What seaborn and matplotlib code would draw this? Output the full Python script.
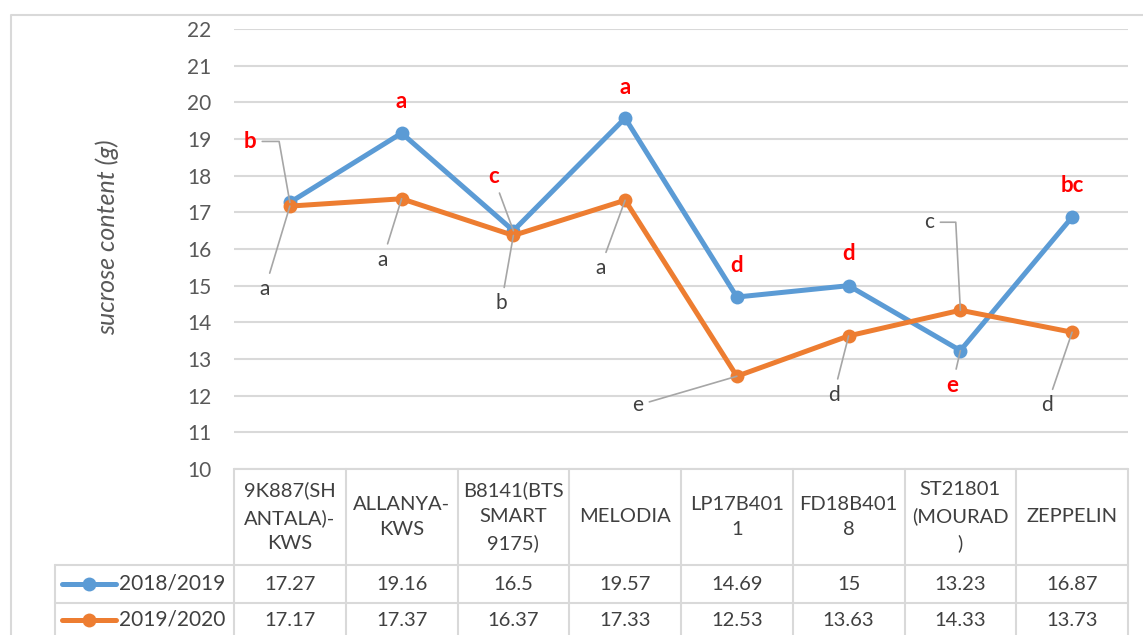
import numpy as np
import pandas as pd
import seaborn as sns
import matplotlib.pyplot as plt

# ---- data -------------------------------------------------------------
varieties = ["9K887(SH\nANTALA)-\nKWS", "ALLANYA-\nKWS", "B8141(BTS\nSMART\n9175)",
             "MELODIA", "LP17B401\n1", "FD18B401\n8", "ST21801\n(MOURAD\n)",
             "ZEPPELIN"]
seasons = ["2018/2019", "2019/2020"]
sucrose_1819 = [17.27, 19.16, 16.5, 19.57, 14.69, 15, 13.23, 16.87]
sucrose_1920 = [17.17, 17.37, 16.37, 17.33, 12.53, 13.63, 14.33, 13.73]
letters_1819 = ["b", "a", "c", "a", "d", "d", "e", "bc"]
letters_1920 = ["a", "a", "b", "a", "e", "d", "c", "d"]
table_1819 = ["17.27", "19.16", "16.5", "19.57", "14.69", "15", "13.23", "16.87"]
table_1920 = ["17.17", "17.37", "16.37", "17.33", "12.53", "13.63", "14.33", "13.73"]

# ---- label placement (offset pixels from point) -------------------------
off_1819 = [(-40, 61), (0, 32), (-20, 54), (0, 31), (0, 32), (0, 32), (-8, -35), (0, 32)]
lead_1819 = [100, None, "line", None, None, None, "line", None]
off_1920 = [(-25, -83), (-19, -61), (-12, -68), (-25, -68), (-99, -29), (-15, -59),
            (-31, 88), (-25, -73)]
lead_1920 = ["line", "line", "line", "line", "line", "line", 93, "line"]

BLUE, ORANGE = "#5B9BD5", "#ED7D31"
GRID = "#D9D9D9"
TXT = "#404040"
W, H = 1143, 635
L, R, TOP, BOT = 234, 1128, 29, 469

sns.set_theme(style="white")
plt.rcParams["font.family"] = ["Lato", "DejaVu Sans"]

df = pd.DataFrame({
    "pos": list(range(len(varieties))) * 2,
    "sucrose": sucrose_1819 + sucrose_1920,
    "season": [seasons[0]] * len(varieties) + [seasons[1]] * len(varieties),
})

fig = plt.figure(figsize=(W / 100, H / 100), dpi=100)
ov = fig.add_axes([0, 0, 1, 1], zorder=0)
ov.set_xlim(0, W)
ov.set_ylim(H, 0)
ov.axis("off")

ax = fig.add_axes([L / W, (H - BOT) / H, (R - L) / W, (BOT - TOP) / H], zorder=2)
ax.patch.set_alpha(0)

sns.lineplot(data=df, x="pos", y="sucrose", hue="season",
             palette=[BLUE, ORANGE], marker="o", markersize=10,
             markeredgewidth=0, linewidth=3.6, legend=False, ax=ax,
             zorder=3)

ax.set_xlim(-0.5, len(varieties) - 0.5)
ax.set_ylim(10, 22)
ax.set_yticks(range(10, 23))
ax.set_xticks([])
ax.set_xlabel("")
ax.set_ylabel("sucrose content (g)", fontsize=18, fontstyle="italic",
              color="#595959")
ax.yaxis.set_label_coords(-0.129, 0.527)
ax.tick_params(axis="y", length=0, labelsize=15, labelcolor="#595959", pad=16.5)
ax.grid(axis="y", color=GRID, lw=1.5)
for s in ax.spines.values():
    s.set_visible(False)


def place(vals, letters, offs, leads, color, weight, size):
    for i, (v, t, o, ld) in enumerate(zip(vals, letters, offs, leads)):
        ap = None
        if ld == "line":
            ap = dict(arrowstyle="-", color="#A6A6A6", lw=1.2, shrinkA=2, shrinkB=0)
        elif ld is not None:
            ap = dict(arrowstyle="-", color="#A6A6A6", lw=1.2, shrinkA=2, shrinkB=0,
                      connectionstyle=f"angle,angleA=0,angleB={ld},rad=0")
        ax.annotate(t, xy=(i, v), xytext=o, textcoords="offset pixels",
                    ha="center", va="center", fontsize=size, color=color,
                    fontweight=weight, arrowprops=ap, zorder=4)


place(sucrose_1819, letters_1819, off_1819, lead_1819, "#FF0000", "bold", 16)
place(sucrose_1920, letters_1920, off_1920, lead_1920, TXT, "normal", 15)

# ---- outer chart border ------------------------------------------------
ov.plot([11, 11, W + 5], [H + 5, 15, 15], color=GRID, lw=1.5)

# ---- data table -------------------------------------------------------
n = len(varieties)
cw = (R - L) / n
LEG = 55
ROW1, ROW2, ROW3 = 565, 603, 641
edges = [L + cw * k for k in range(n + 1)]
ov.plot([L, R], [BOT, BOT], color=GRID, lw=1.5)
for yy in (ROW1, ROW2, ROW3):
    ov.plot([LEG, R], [yy, yy], color=GRID, lw=1.5)
for xx in edges:
    ov.plot([xx, xx], [BOT, H + 5], color=GRID, lw=1.5)
ov.plot([LEG, LEG], [ROW1, H + 5], color=GRID, lw=1.5)

FS = 14.5
for k, lab in enumerate(varieties):
    cx = L + cw * (k + 0.5)
    ov.text(cx, (BOT + ROW1) / 2, lab, ha="center", va="center", fontsize=FS,
            color=TXT, linespacing=1.62)
    ov.text(cx, (ROW1 + ROW2) / 2, table_1819[k], ha="center", va="center",
            fontsize=FS, color=TXT)
    ov.text(cx, (ROW2 + ROW3) / 2 - 2, table_1920[k], ha="center", va="center",
            fontsize=FS, color=TXT)

for yy, col, name in (((ROW1 + ROW2) / 2, BLUE, seasons[0]),
                      ((ROW2 + ROW3) / 2 - 2, ORANGE, seasons[1])):
    ov.plot([62, 116], [yy, yy], color=col, lw=3.6, solid_capstyle="round")
    ov.plot([89], [yy], marker="o", color=col, markersize=10, markeredgewidth=0)
    ov.text(119, yy, name, ha="left", va="center", fontsize=15, color=TXT)

fig.savefig("out.png", dpi=100)
